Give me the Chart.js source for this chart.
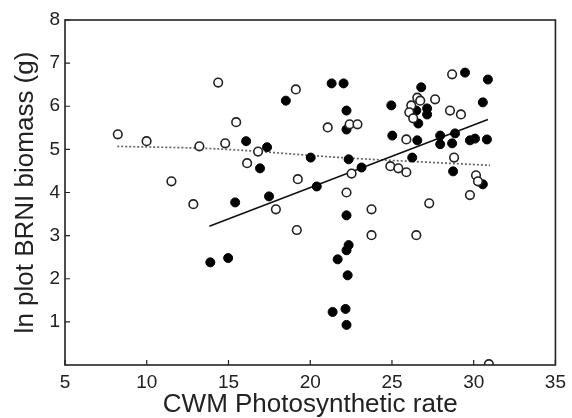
<!DOCTYPE html>
<html>
<head>
<meta charset="utf-8">
<script src="https://cdn.jsdelivr.net/npm/chart.js@4/dist/chart.umd.min.js"></script>
<style>
  html, body { margin: 0; padding: 0; background: #fff; }
  #wrap { width: 572px; height: 418px; }
</style>
</head>
<body>
<div id="wrap"><canvas id="canvas"></canvas></div>
<script>
// filled circles
const filledX = [13.89, 14.98, 15.41, 16.08, 16.93, 17.36, 17.48, 18.51, 20.03, 20.4,
  21.31, 22.04, 21.68, 21.37, 22.22, 22.22, 22.35, 23.14, 22.22, 22.35,
  22.22, 22.29, 22.16, 22.22, 24.96, 25.02, 26.24, 26.79, 26.49, 27.15,
  27.15, 26.61, 26.55, 27.95, 27.95, 28.86, 28.68, 28.74, 29.47, 30.87,
  30.56, 29.77, 30.08, 30.81, 30.56];
const filledY = [2.38, 2.48, 3.77, 5.19, 4.56, 5.05, 3.91, 6.13, 4.81, 4.14,
  6.53, 6.53, 2.45, 1.23, 5.90, 5.46, 4.77, 4.58, 3.47, 2.78,
  2.66, 2.08, 1.30, 0.93, 6.02, 5.32, 4.81, 6.44, 5.90, 5.95,
  5.81, 5.60, 5.21, 5.32, 5.12, 5.37, 5.14, 4.49, 6.78, 6.62,
  6.09, 5.21, 5.25, 5.23, 4.19];

// open circles
const openX = [8.23, 9.99, 11.51, 12.85, 13.22, 14.37, 14.8, 15.47, 16.14, 16.81,
  17.9, 19.12, 19.24, 19.18, 21.07, 22.41, 22.89, 22.53, 22.22, 23.75,
  23.75, 24.9, 25.39, 25.88, 26.49, 25.88, 26.18, 26.06, 26.3, 26.55,
  26.73, 27.64, 27.28, 28.55, 29.22, 28.68, 28.8, 30.14, 30.26, 29.77,
  30.93];
const openY = [5.35, 5.19, 4.26, 3.73, 5.07, 6.55, 5.14, 5.63, 4.68, 4.95,
  3.61, 6.39, 4.31, 3.13, 5.51, 5.58, 5.58, 4.44, 4.00, 3.61,
  3.01, 4.61, 4.56, 4.47, 3.01, 5.23, 6.02, 5.86, 5.72, 6.20,
  6.13, 6.16, 3.75, 5.90, 5.81, 6.74, 4.81, 4.40, 4.26, 3.94,
  0.02];

// fitted lines
const fitFilledX = [13.83, 30.87];
const fitFilledY = [3.22, 5.69];
const fitOpenX = [8.2, 14.4, 22.3, 31.0];
const fitOpenY = [5.07, 5.01, 4.80, 4.63];

const toPts = (xs, ys) => xs.map((x, i) => ({ x: x, y: ys[i] }));

// box round the plot and short inward tick marks
const frame = {
  id: 'frame',
  afterDraw(chart) {
    const { ctx, chartArea: a, scales } = chart;
    ctx.save();
    ctx.strokeStyle = '#222';
    ctx.lineWidth = 1.6;
    ctx.strokeRect(a.left, a.top, a.right - a.left, a.bottom - a.top);
    ctx.lineWidth = 1.2;
    ctx.beginPath();
    scales.x.ticks.forEach(t => {
      const px = scales.x.getPixelForValue(t.value);
      ctx.moveTo(px, a.bottom);
      ctx.lineTo(px, a.bottom - 5);
    });
    scales.y.ticks.forEach(t => {
      if (t.value === 0) return;
      const py = scales.y.getPixelForValue(t.value);
      ctx.moveTo(a.left, py);
      ctx.lineTo(a.left + 5, py);
    });
    ctx.stroke();
    ctx.restore();
  }
};

const ctx = document.getElementById('canvas').getContext('2d');
const myChart = new Chart(ctx, {
  type: 'scatter',
  data: {
    datasets: [{
      label: 'open',
      data: toPts(openX, openY),
      backgroundColor: '#fff',
      borderColor: '#222',
      borderWidth: 1.6,
      pointRadius: 4.3,
      order: 0
    },
    {
      label: 'filled',
      data: toPts(filledX, filledY),
      backgroundColor: '#000',
      borderColor: '#000',
      borderWidth: 1,
      pointRadius: 4.5,
      order: 1
    },
    {
      label: 'fit filled',
      data: toPts(fitFilledX, fitFilledY),
      showLine: true,
      pointRadius: 0,
      borderColor: '#111',
      borderWidth: 1.6,
      fill: false,
      order: 2
    },
    {
      label: 'fit open',
      data: toPts(fitOpenX, fitOpenY),
      showLine: true,
      pointRadius: 0,
      borderColor: '#666',
      borderWidth: 1.7,
      borderDash: [2, 2],
      tension: 0.3,
      fill: false,
      order: 3
    }]
  },
  options: {
    responsive: true,
    maintainAspectRatio: false,
    animation: false,
    layout: { padding: { top: 20, right: 14, left: 0, bottom: 0 } },
    plugins: {
      legend: { display: false },
      tooltip: { enabled: false }
    },
    scales: {
      x: {
        type: 'linear',
        min: 5,
        max: 35,
        afterFit: s => { s.height = 53; },
        grid: { display: false, drawTicks: false },
        border: { display: false },
        ticks: {
          stepSize: 5,
          padding: 6,
          color: '#222',
          font: { family: 'Liberation Sans, Arial, sans-serif', size: 19 }
        },
        title: {
          display: true,
          text: 'CWM Photosynthetic rate',
          color: '#222',
          padding: 0,
          font: { family: 'Liberation Sans, Arial, sans-serif', size: 26, lineHeight: 1 }
        }
      },
      y: {
        min: 0,
        max: 8,
        afterFit: s => { s.width = 65; },
        grid: { display: false, drawTicks: false },
        border: { display: false },
        ticks: {
          stepSize: 1,
          padding: 5,
          color: '#222',
          font: { family: 'Liberation Sans, Arial, sans-serif', size: 19 },
          callback: v => (v === 0 ? '' : v)
        },
        title: {
          display: true,
          text: 'ln plot BRNI biomass (g)',
          color: '#222',
          padding: { top: 13, bottom: 0 },
          font: { family: 'Liberation Sans, Arial, sans-serif', size: 26, lineHeight: 1 }
        }
      }
    }
  },
  plugins: [frame]
});
</script>
</body>
</html>
